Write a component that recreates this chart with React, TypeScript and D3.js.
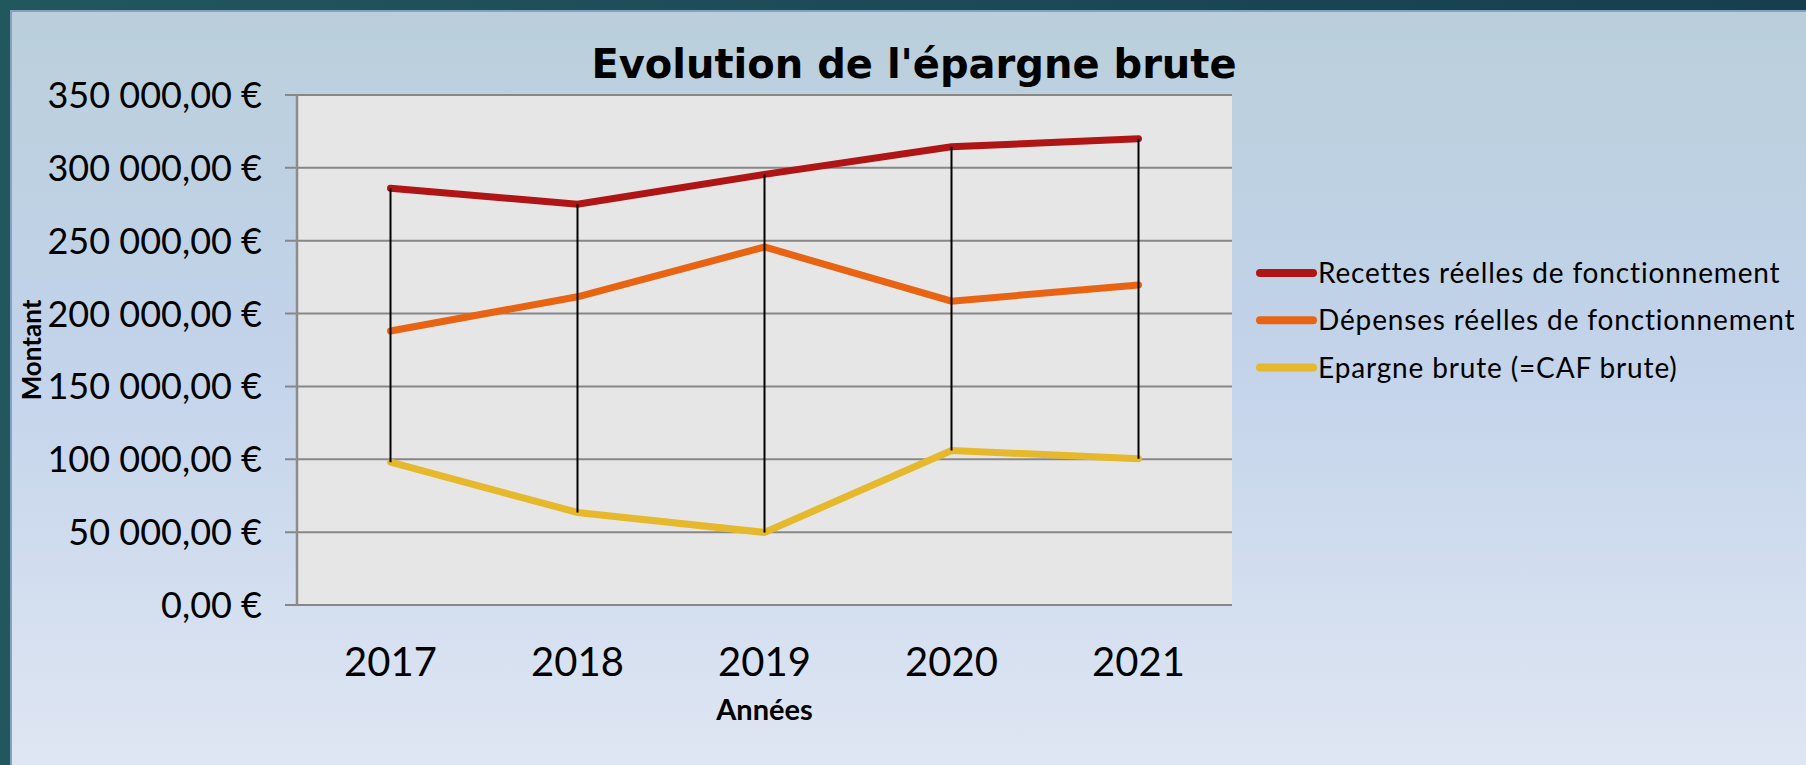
import React from 'react';
import * as d3 from 'd3';

const years = ['2017', '2018', '2019', '2020', '2021'];
const recettes = [286000, 275000, 295500, 314500, 320000];
const depenses = [188000, 211500, 245700, 208500, 219600];
const epargne = [98000, 63500, 49800, 106000, 100400];
const yTicks = [0, 50000, 100000, 150000, 200000, 250000, 300000, 350000];

const seriesNames = [
  'Recettes réelles de fonctionnement',
  'Dépenses réelles de fonctionnement',
  'Epargne brute (=CAF brute)',
];
const seriesColors = ['#B01515', '#E86413', '#E6B82C'];

const W = 1806;
const H = 765;
const plot = { left: 297, right: 1232, top: 95, bottom: 605 };

const fmtEuro = (v: number) => {
  const intPart = Math.floor(v)
    .toString()
    .replace(/\B(?=(\d{3})+(?!\d))/g, ' ');
  return `${intPart},00 €`;
};

const App: React.FC = () => {
  const x = d3.scaleBand().domain(years).range([plot.left, plot.right]);
  const cx = (d: string) => (x(d) || 0) + x.bandwidth() / 2;
  const y = d3.scaleLinear().domain([0, 350000]).range([plot.bottom, plot.top]);

  const allSeries = [recettes, depenses, epargne];
  const line = d3
    .line<number>()
    .x((_, i) => cx(years[i]))
    .y((d) => y(d));

  const font = "Lato, 'Noto Sans', sans-serif";

  return (
    <div style={{ position: 'absolute', left: 0, top: 0 }}>
      <svg width={W} height={H} style={{ display: 'block' }}>
        <defs>
          <linearGradient id="frame" x1="0" y1="0" x2="1" y2="0">
            <stop offset="0" stopColor="#22575E" />
            <stop offset="1" stopColor="#163E4F" />
          </linearGradient>
          <linearGradient id="panel" x1="0" y1="0" x2="0" y2="1">
            <stop offset="0" stopColor="#BACFDB" />
            <stop offset="0.45" stopColor="#C2D3EA" />
            <stop offset="1" stopColor="#DFE6F3" />
          </linearGradient>
        </defs>
        <rect x={0} y={0} width={W} height={H} fill="url(#frame)" />
        <rect x={10} y={10} width={W - 10} height={H - 10} fill="url(#panel)" />
        <line x1={10} x2={W} y1={11} y2={11} stroke="#82A2C2" strokeWidth={2} />
        <line x1={11} x2={11} y1={10} y2={H} stroke="#82A2C2" strokeWidth={2} />

        {/* plot area */}
        <rect
          x={plot.left}
          y={plot.top}
          width={plot.right - plot.left}
          height={plot.bottom - plot.top}
          fill="#E6E6E6"
        />

        {yTicks.map((t) => (
          <g key={t}>
            <line
              x1={plot.left - 12}
              x2={plot.right}
              y1={y(t)}
              y2={y(t)}
              stroke="#878787"
              strokeWidth={2}
            />
            <text
              x={262}
              y={y(t)}
              dy="0.36em"
              textAnchor="end"
              fontFamily={font}
              fontSize={36}
              fill="#000"
            >
              {fmtEuro(t)}
            </text>
          </g>
        ))}
        <line
          x1={plot.left}
          x2={plot.left}
          y1={plot.top}
          y2={plot.bottom}
          stroke="#8C8C8C"
          strokeWidth={2.5}
        />

        {years.map((yr) => (
          <text
            key={yr}
            x={cx(yr)}
            y={676}
            textAnchor="middle"
            fontFamily={font}
            fontSize={40}
            fill="#000"
          >
            {yr}
          </text>
        ))}

        {/* series lines */}
        {[2, 1, 0].map((si) => (
          <path
            key={si}
            d={line(allSeries[si]) || ''}
            fill="none"
            stroke={seriesColors[si]}
            strokeWidth={7}
            strokeLinecap="round"
            strokeLinejoin="miter"
          />
        ))}

        {/* high-low lines */}
        {years.map((yr, i) => {
          const vals = allSeries.map((s) => s[i]);
          return (
            <line
              key={yr}
              x1={cx(yr)}
              x2={cx(yr)}
              y1={y(d3.max(vals) || 0)}
              y2={y(d3.min(vals) || 0)}
              stroke="#000"
              strokeWidth={2}
            />
          );
        })}

        {/* title */}
        <text
          x={914}
          y={78}
          textAnchor="middle"
          fontFamily="'DejaVu Sans', sans-serif"
          fontWeight="bold"
          fontSize={40}
          fill="#000"
        >
          Evolution de l'épargne brute
        </text>

        {/* axis titles */}
        <text
          transform="translate(41,350) rotate(-90)"
          textAnchor="middle"
          fontFamily={font}
          fontWeight="bold"
          fontSize={26}
          fill="#000"
        >
          Montant
        </text>
        <text
          x={764.5}
          y={720}
          textAnchor="middle"
          fontFamily={font}
          fontWeight="bold"
          fontSize={29}
          fill="#000"
        >
          Années
        </text>

        {/* legend */}
        {seriesNames.map((name, i) => (
          <g key={name}>
            <line
              x1={1260}
              x2={1313}
              y1={273 + i * 47.3}
              y2={273 + i * 47.3}
              stroke={seriesColors[i]}
              strokeWidth={8}
              strokeLinecap="round"
            />
            <text
              x={1318}
              y={283 + i * 47.3}
              fontFamily={font}
              fontSize={28}
              letterSpacing={0.85}
              fill="#000"
            >
              {name}
            </text>
          </g>
        ))}
      </svg>
    </div>
  );
};

export default App;
